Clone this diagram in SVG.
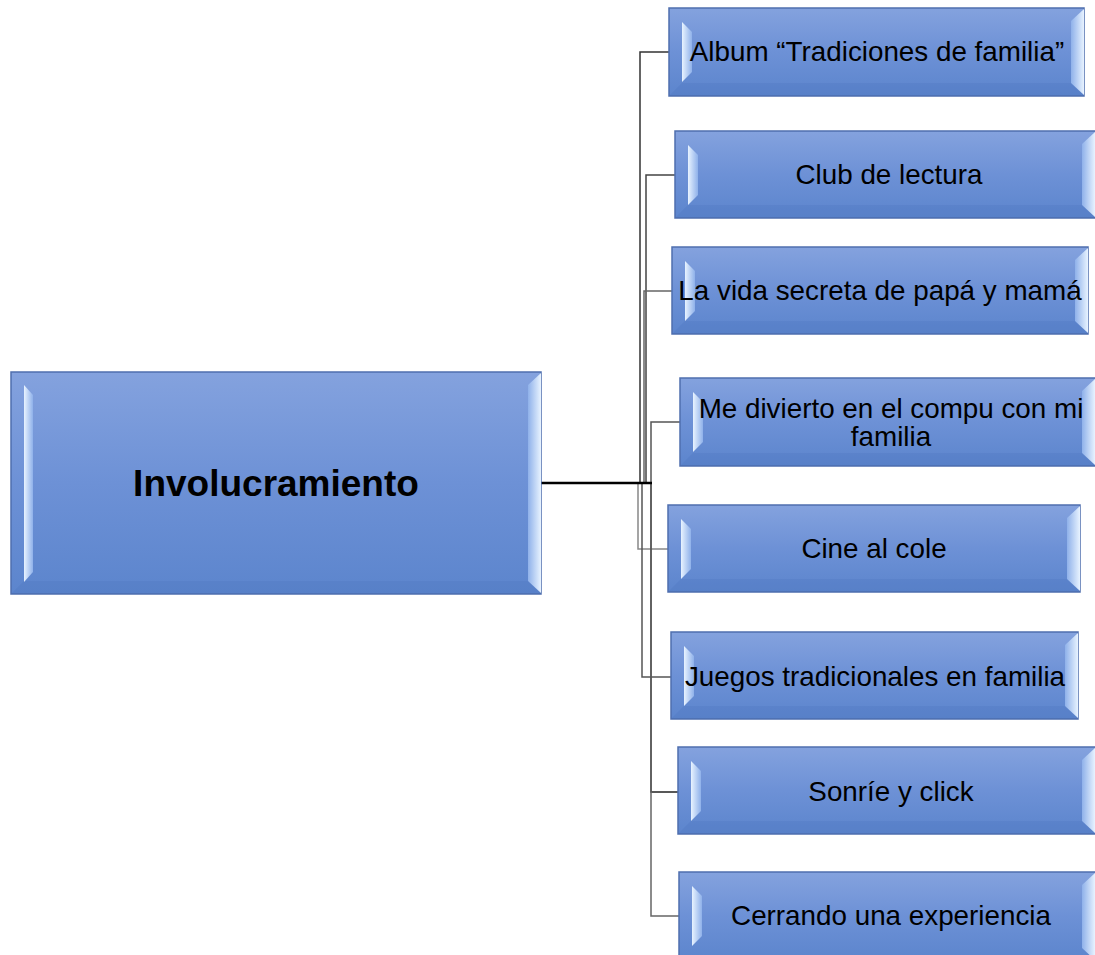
<svg xmlns="http://www.w3.org/2000/svg" width="1095" height="955" viewBox="0 0 1095 955">
<defs>
<linearGradient id="fill" x1="0" y1="0" x2="0" y2="1">
<stop offset="0" stop-color="#84a2de"/>
<stop offset="0.5" stop-color="#6d91d6"/>
<stop offset="1" stop-color="#5c85cd"/>
</linearGradient>
<linearGradient id="hl" x1="0" y1="0" x2="1" y2="0">
<stop offset="0" stop-color="#e8f3ff"/>
<stop offset="1" stop-color="#8fb1ea"/>
</linearGradient>
<linearGradient id="hr" x1="0" y1="0" x2="1" y2="0">
<stop offset="0" stop-color="#8fb1ea"/>
<stop offset="1" stop-color="#e8f3ff"/>
</linearGradient>
</defs>
<style>
.box{fill:url(#fill);stroke:#4f6fae;stroke-width:1.5}
.bl{fill:url(#hl)}
.br{fill:url(#hr)}
.bb{fill:#3f67b0;opacity:.15}
.t{font-family:"Liberation Sans",Arial,sans-serif;font-size:27.8px;fill:#000;text-anchor:middle}
.tm{font-family:"Liberation Sans",Arial,sans-serif;font-size:37px;font-weight:bold;fill:#000;text-anchor:middle}
.c{fill:none;stroke-width:1.5}
</style>
<g id="connectors">
<path class="c" stroke="#333" d="M640 483 V52 H669"/>
<path class="c" stroke="#444" d="M646 483 V175 H675"/>
<path class="c" stroke="#666" d="M644 483 V291 H672"/>
<path class="c" stroke="#555" d="M651 483 V422 H680"/>
<path class="c" stroke="#888" d="M638 483 V549 H668"/>
<path class="c" stroke="#555" d="M642 483 V677 H671"/>
<path class="c" stroke="#222" d="M651 483 V792 H678"/>
<path class="c" stroke="#666" d="M651 483 V916 H679"/>
<path fill="none" stroke="#000" stroke-width="2.5" d="M541 483 H652"/>
</g>
<g id="main">
<rect class="box" x="11" y="372" width="530" height="222"/>
<polygon class="bb" points="11,594 24,581 528,581 541,594"/>
<polygon class="bl" points="24,385 33,395 33,572 24,582"/>
<polygon class="br" points="528,385 541,373 541,593 528,581"/>
<text class="tm" x="276" y="496">Involucramiento</text>
</g>
<g id="n1">
<rect class="box" x="669" y="8" width="415" height="88"/>
<polygon class="bb" points="669,96 682,83 1071,83 1084,96"/>
<polygon class="bl" points="682,22 692,32 692,72 682,82"/>
<polygon class="br" points="1071,21 1084,9 1084,95 1071,83"/>
<text class="t" x="877" y="61">Album “Tradiciones de familia”</text>
</g>
<g id="n2">
<rect class="box" x="675" y="131" width="422" height="87"/>
<polygon class="bb" points="675,218 688,205 1084,205 1097,218"/>
<polygon class="bl" points="688,145 698,155 698,195 688,205"/>
<polygon class="br" points="1082,144 1095,132 1095,217 1082,205"/>
<text class="t" x="889" y="184">Club de lectura</text>
</g>
<g id="n3">
<rect class="box" x="672" y="247" width="416" height="87"/>
<polygon class="bb" points="672,334 685,321 1075,321 1088,334"/>
<polygon class="bl" points="685,261 695,271 695,311 685,321"/>
<polygon class="br" points="1075,260 1088,248 1088,333 1075,321"/>
<text class="t" x="880" y="300">La vida secreta de papá y mamá</text>
</g>
<g id="n4">
<rect class="box" x="680" y="378" width="417" height="88"/>
<polygon class="bb" points="680,466 693,453 1084,453 1097,466"/>
<polygon class="bl" points="693,392 703,402 703,442 693,452"/>
<polygon class="br" points="1082,391 1095,379 1095,465 1082,453"/>
<text class="t" x="891" y="418">Me divierto en el compu con mi</text>
<text class="t" x="891" y="446">familia</text>
</g>
<g id="n5">
<rect class="box" x="668" y="505" width="412" height="87"/>
<polygon class="bb" points="668,592 681,579 1067,579 1080,592"/>
<polygon class="bl" points="681,519 691,529 691,569 681,579"/>
<polygon class="br" points="1067,518 1080,506 1080,591 1067,579"/>
<text class="t" x="874" y="558">Cine al cole</text>
</g>
<g id="n6">
<rect class="box" x="671" y="632" width="407" height="87"/>
<polygon class="bb" points="671,719 684,706 1065,706 1078,719"/>
<polygon class="bl" points="684,646 694,656 694,696 684,706"/>
<polygon class="br" points="1065,645 1078,633 1078,718 1065,706"/>
<text class="t" x="875" y="686">Juegos tradicionales en familia</text>
</g>
<g id="n7">
<rect class="box" x="678" y="747" width="419" height="87"/>
<polygon class="bb" points="678,834 691,821 1084,821 1097,834"/>
<polygon class="bl" points="691,761 701,771 701,811 691,821"/>
<polygon class="br" points="1082,760 1095,748 1095,833 1082,821"/>
<text class="t" x="891" y="801">Sonríe y click</text>
</g>
<g id="n8">
<rect class="box" x="679" y="872" width="418" height="88"/>
<polygon class="bl" points="692,886 702,896 702,936 692,946"/>
<polygon class="br" points="1082,885 1095,873 1095,960 1082,948"/>
<text class="t" x="891" y="925">Cerrando una experiencia</text>
</g>
</svg>
